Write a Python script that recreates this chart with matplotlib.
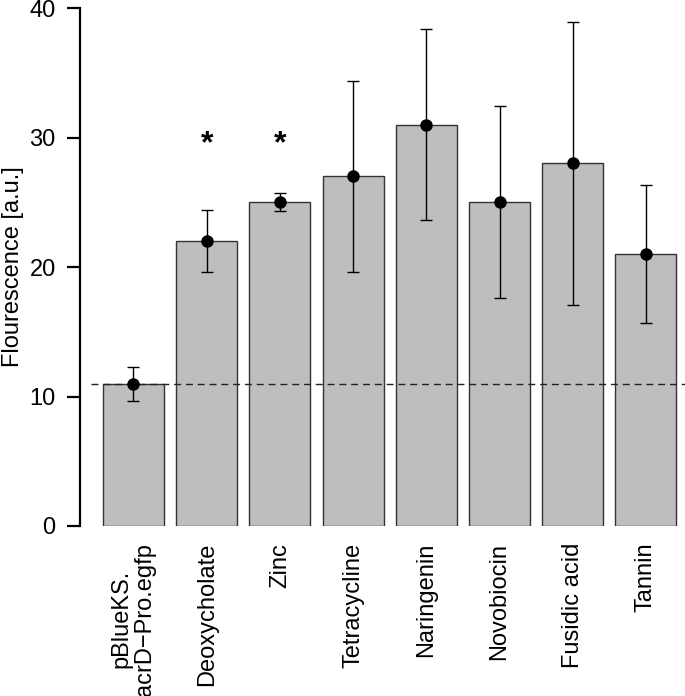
import numpy as np
import matplotlib
matplotlib.use('Agg')
import matplotlib.pyplot as plt

plt.rcParams['font.family'] = ['Liberation Sans', 'DejaVu Sans']

# data
labels = ['pBlueKS.\nacrD\u2212Pro.egfp', 'Deoxycholate', 'Zinc', 'Tetracycline',
          'Naringenin', 'Novobiocin', 'Fusidic acid', 'Tannin']
means = [11, 22, 25, 27, 31, 25, 28, 21]
err_low = [9.65, 19.6, 24.3, 19.6, 23.6, 17.6, 17.1, 15.7]
err_high = [12.3, 24.4, 25.7, 34.4, 38.4, 32.4, 38.9, 26.3]
signif = [False, True, True, False, False, False, False, False]
baseline = 11
yticks = [0, 10, 20, 30, 40]

W, H = 685, 696
fig = plt.figure(figsize=(W / 100, H / 100), dpi=100)
ax = fig.add_axes([80 / W, (H - 526) / H, (W - 80) / W, (526 - 8) / H])

# R barplot layout: width 1, space 0.2
x = 0.7 + 1.2 * np.arange(len(means))
means = np.array(means)
lo = means - np.array(err_low)
hi = np.array(err_high) - means

ax.bar(x, means, width=1.0, color='#bebebe', edgecolor='#333333', linewidth=1.0, zorder=2)
ax.hlines(baseline, 0.0, 9.9, colors='#222222', linestyles=(0, (5, 3.5)), linewidth=1.0,
          zorder=3, clip_on=False)
ax.errorbar(x, means, yerr=[lo, hi], fmt='o', color='black', markersize=8,
            ecolor='black', elinewidth=1.0, capsize=4.5, capthick=1.0, zorder=4)

for xi, s in zip(x, signif):
    if s:
        ax.text(xi, 29.5, '*', ha='center', va='center', fontsize=23, fontweight='bold')

ax.set_xlim(-0.176, 9.74)
ax.set_ylim(0, 40)
for side in ['top', 'right', 'bottom']:
    ax.spines[side].set_visible(False)
ax.spines['left'].set_linewidth(1.6)
ax.spines['left'].set_bounds(0, 40)

ax.set_yticks(yticks)
ax.tick_params(axis='y', length=9.5, width=1.6, pad=8, labelsize=17)
ax.set_xticks(x)
ax.set_xticklabels(labels, rotation=90, fontsize=17, ha='center', va='top', linespacing=1.1)
ax.tick_params(axis='x', length=0, pad=12)

# y label placed by hand so it stays inside the figure
fig.text(13 / W, 1 - 267 / H, 'Flourescence [a.u.]', rotation=90, fontsize=17,
         ha='center', va='center')

fig.savefig('out.png', dpi=100)
